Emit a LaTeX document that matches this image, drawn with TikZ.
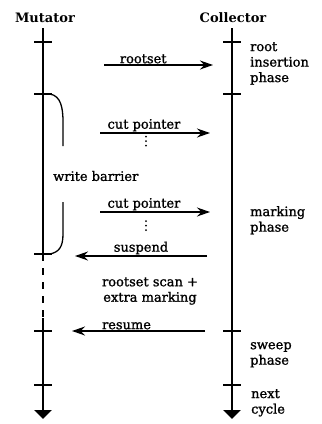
\documentclass[tikz,border=0pt]{standalone}
\usepackage{fontspec}
\setmainfont{DejaVu Serif}
\newfontfamily\lblfamily{DejaVu Serif}[FakeBold=1.2]
\usepackage{tikz}
\usetikzlibrary{arrows.meta,positioning}
\newcommand{\lblfont}{\lblfamily\fontsize{13pt}{15.5pt}\selectfont}

\begin{document}
\begin{tikzpicture}[
    x=1pt, y=-1pt,
    lbl/.style={font=\lblfont, inner sep=1pt},
    head/.style={font=\fontsize{13pt}{15.5pt}\selectfont\bfseries, inner sep=1pt},
    lifeline/.style={line width=2.2pt, -{Triangle[width=17pt, length=9pt]}},
    tick/.style={line width=1.2pt},
    bigtick/.style={line width=2.4pt},
    msg/.style={line width=1.3pt, -{Stealth[length=13pt, width=9pt]}},
    phase/.style={lbl, anchor=north west, align=left}
]
    \useasboundingbox (0,0) rectangle (322,424);

    % lifelines
    \node[head] (mut) at (45,18) {Mutator};
    \node[head] (col) at (233,18) {Collector};
    \coordinate (mtop) at (43,28);
    \coordinate (mstop) at (43,254);
    \coordinate (mgo) at (43,318);
    \coordinate (mbot) at (43,419);
    \coordinate (ctop) at (232,28);
    \coordinate (cbot) at (232,419);

    \draw[line width=2.2pt] (mtop) -- (mstop);
    \draw[line width=2.2pt, dash pattern=on 7pt off 7pt] (mstop) -- (mgo);
    \draw[lifeline] (mgo) -- (mbot);
    \draw[lifeline] (ctop) -- (cbot);

    % phase boundaries
    \draw[bigtick] (34,42) -- (52,42);
    \draw[bigtick] (223,42) -- (241,42);
    \foreach \y in {94,254,331}
        \draw[tick] (34,\y) -- (52,\y);
    \draw[bigtick] (34,385) -- (52,385);
    \foreach \y in {94,331}
        \draw[tick] (223,\y) -- (241,\y);
    \draw[bigtick] (223,385) -- (241,385);

    % collector phases
    \node[phase] (pins) at (249,41) {root\\insertion\\phase};
    \node[phase] (pmark) at (249,205) {marking\\phase};
    \node[phase] (psweep) at (249,341) {sweep\\phase};
    \node[phase] (pnext) at (250,388) {next\\cycle};

    % messages
    \coordinate (rs1) at (104,65);
    \coordinate (rs2) at (213,65);
    \draw[msg] (rs1) -- node[lbl, above, pos=0.36] (lroot) {rootset} (rs2);

    \coordinate (cp1) at (100,133);
    \coordinate (cp2) at (210,133);
    \draw[msg] (cp1) -- node[lbl, above, pos=0.4] (lcut1) {cut pointer} (cp2);
    \foreach \d in {0,4.5,9}
        \fill (146,136.5+\d) circle (1pt);

    \coordinate (cq1) at (100,212);
    \coordinate (cq2) at (210,212);
    \draw[msg] (cq1) -- node[lbl, above, pos=0.4] (lcut2) {cut pointer} (cq2);
    \foreach \d in {0,4.5,9}
        \fill (146,221+\d) circle (1pt);

    \coordinate (sp1) at (207,256);
    \coordinate (sp2) at (75,256);
    \draw[msg] (sp1) -- node[lbl, above, pos=0.5] (lsusp) {suspend} (sp2);

    \node[lbl, align=center] (scan) at (150,291) {rootset scan +\\extra marking};

    \coordinate (re1) at (205,331);
    \coordinate (re2) at (72,331);
    \draw[msg] (re1) -- node[lbl, above, pos=0.59] (lres) {resume} (re2);

    % write barrier bracket
    \node[lbl, anchor=west] (wb) at (52,176) {write barrier};
    \draw[line width=1.3pt] (50,94) .. controls (61,96) and (63,108) .. (63,122) -- (63,146);
    \draw[line width=1.3pt] (63,202) -- (63,234) .. controls (63,247) and (59,252) .. (50,254);
\end{tikzpicture}
\end{document}
